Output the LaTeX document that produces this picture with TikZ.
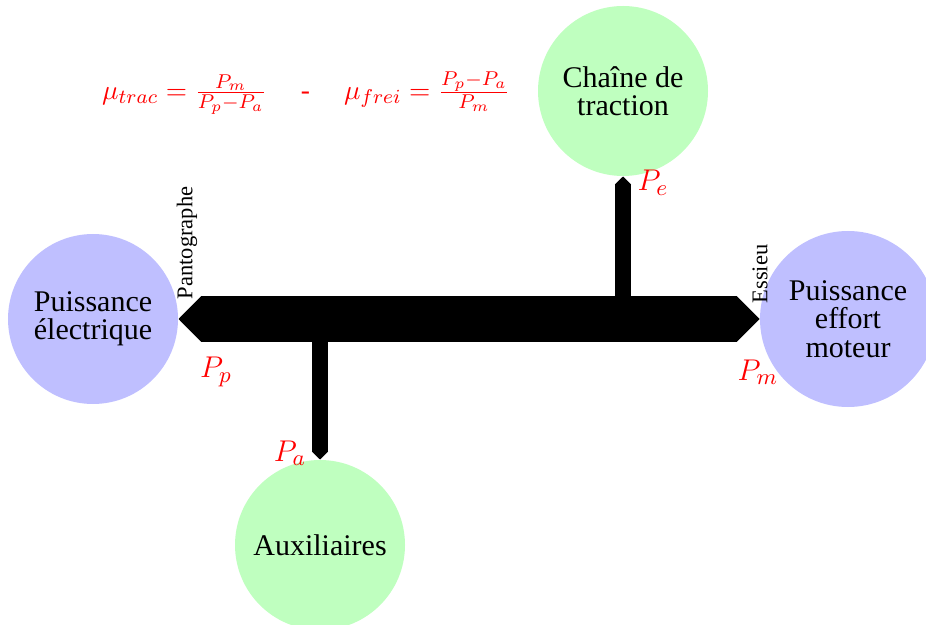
\documentclass[tikz,border=0pt]{standalone}
\usepackage{fontspec}
\setmainfont{Liberation Serif}
\usetikzlibrary{arrows.meta}

\begin{document}
\begin{tikzpicture}[
    x=0.4pt, y=-0.4pt,
    bloc/.style={circle, inner sep=0pt, align=center, font=\fontsize{12}{11.3}\selectfont},
    blocelec/.style={bloc, fill=blue!25},
    blocmeca/.style={bloc, fill=green!25},
    bus/.style={line width=18pt,
      {Triangle[width=18pt, length=9pt, line width=0.4pt]}-{Triangle[width=18pt, length=9pt, line width=0.4pt]}},
    branche/.style={line width=6.4pt, -{Triangle[width=6.4pt, length=3.2pt, line width=0.4pt]}},
    puiss/.style={text=red, font=\fontsize{13}{13}\selectfont},
    lieu/.style={rotate=90, inner sep=0pt, font=\fontsize{9}{9}\selectfont}
  ]
    \useasboundingbox (0,0) rectangle (926,625);
    \clip (0,0) rectangle (926,625);
    % blocs de puissance
    \node[blocelec, minimum size=68pt] (elec) at (93,319) {Puissance\\électrique};
    \node[blocelec, minimum size=70.4pt] (moteur) at (848,319) {Puissance\\effort\\moteur};
    \node[blocmeca, minimum size=68pt] (trac) at (623,91) {Chaîne de\\traction};
    \node[blocmeca, minimum size=68pt] (aux) at (320,545) {Auxiliaires};
    % piquages sur le bus
    \coordinate (je) at (623,318);
    \coordinate (ja) at (320,318);
    % bus principal et derivations
    \draw[bus] (elec) -- (moteur);
    \draw[branche] (je) -- (trac);
    \draw[branche] (ja) -- (aux);
    % points de mesure
    \node[lieu] at (187,243) {Pantographe};
    \node[lieu] at (760,274) {Essieu};
    \node[puiss] at (216,372) {$P_p$};
    \node[puiss] at (290,453) {$P_a$};
    \node[puiss] at (653,183) {$P_e$};
    \node[puiss] at (758,372) {$P_m$};
    % rendements
    \node[text=red, font=\fontsize{10.95}{13}\selectfont] (rend) at (306,93)
      {$\mu_{trac} = \frac{P_m}{P_p-P_a}$ \quad - \quad $\mu_{frei} = \frac{P_p-P_a}{P_m}$};
  \end{tikzpicture}
\end{document}
